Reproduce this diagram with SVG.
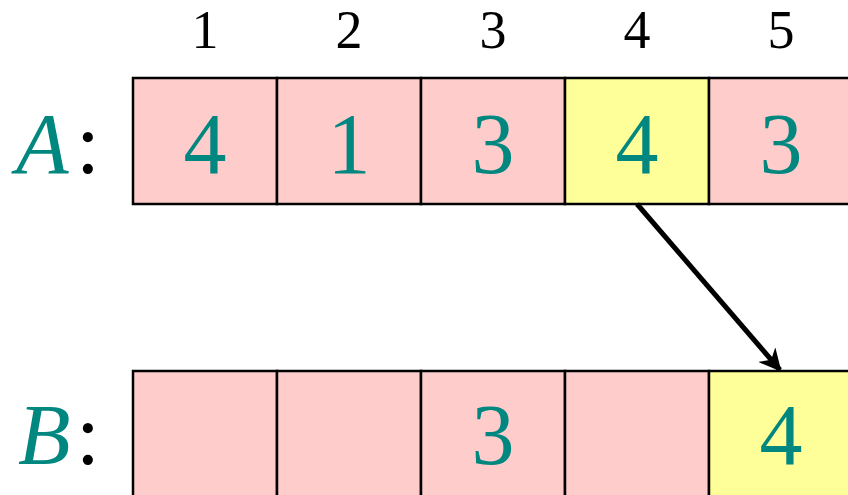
<svg xmlns="http://www.w3.org/2000/svg" width="848" height="495" viewBox="0 0 848 495">
<style>
.pink{fill:#FFCCCC;stroke:#000;stroke-width:2.5}
.yel{fill:#FFFF99;stroke:#000;stroke-width:2.5}
.idx{font-size:54px;fill:#000;text-anchor:middle}
.val{font-size:86px;fill:#00877F;text-anchor:middle}
.lab{font-size:86px;fill:#00877F;font-style:italic}
.col{font-size:86px;fill:#000}
</style>
<defs>
<marker id="ah" viewBox="0 0 10 10" refX="9" refY="5" markerWidth="4.5" markerHeight="4.5" orient="auto" markerUnits="strokeWidth">
<path d="M0,0 L10,5 L0,10 L3,5 z" fill="#000"/>
</marker>
</defs>
<g font-family="Liberation Serif, serif">
<g id="indices">
<text class="idx" x="205" y="48">1</text>
<text class="idx" x="349" y="48">2</text>
<text class="idx" x="493" y="48">3</text>
<text class="idx" x="637" y="48">4</text>
<text class="idx" x="781" y="48">5</text>
</g>
<g id="labelA"><text class="lab" x="16" y="173">A</text><text class="col" x="76" y="173">:</text></g>
<g id="labelB"><text class="lab" x="18" y="464">B</text><text class="col" x="76" y="464">:</text></g>
<g id="A1"><rect class="pink" x="133" y="78" width="144" height="126"/><text class="val" x="205" y="173">4</text></g>
<g id="A2"><rect class="pink" x="277" y="78" width="144" height="126"/><text class="val" x="349" y="173">1</text></g>
<g id="A3"><rect class="pink" x="421" y="78" width="144" height="126"/><text class="val" x="493" y="173">3</text></g>
<g id="A4"><rect class="yel" x="565" y="78" width="144" height="126"/><text class="val" x="637" y="173">4</text></g>
<g id="A5"><rect class="pink" x="709" y="78" width="144" height="126"/><text class="val" x="781" y="173">3</text></g>
<g id="B1"><rect class="pink" x="133" y="371" width="144" height="126"/></g>
<g id="B2"><rect class="pink" x="277" y="371" width="144" height="126"/></g>
<g id="B3"><rect class="pink" x="421" y="371" width="144" height="126"/><text class="val" x="493" y="464">3</text></g>
<g id="B4"><rect class="pink" x="565" y="371" width="144" height="126"/></g>
<g id="B5"><rect class="yel" x="709" y="371" width="144" height="126"/><text class="val" x="781" y="464">4</text></g>
</g>
<g id="connectors">
<line x1="637" y1="204" x2="780" y2="370" stroke="#000" stroke-width="5" marker-end="url(#ah)"/>
</g>
</svg>
